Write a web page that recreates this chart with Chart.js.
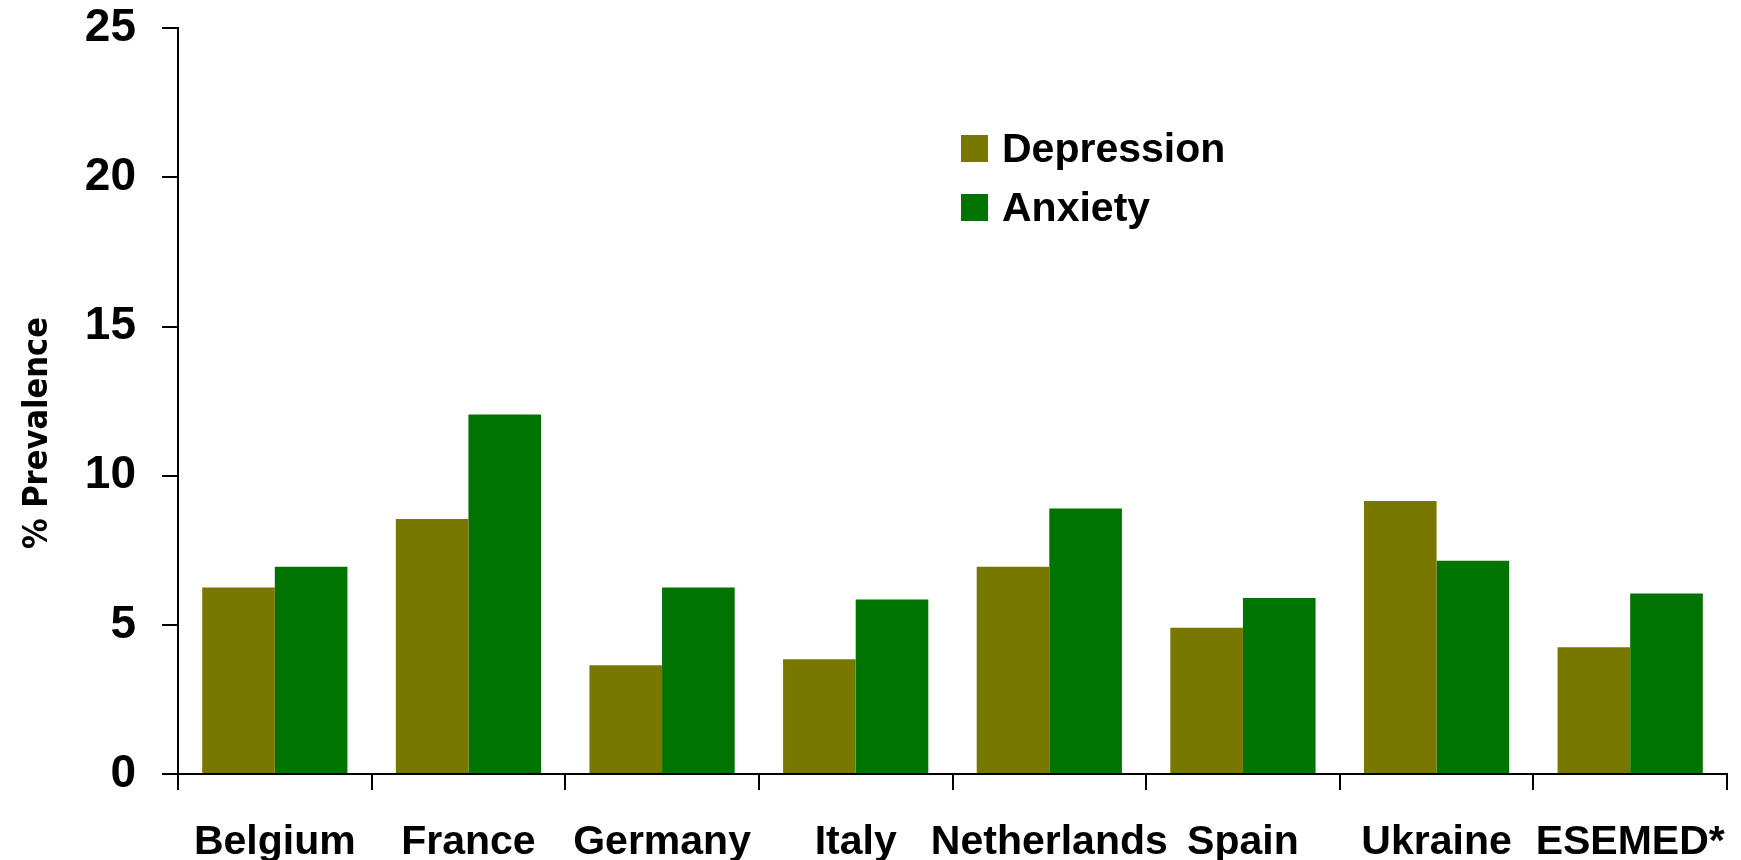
<!DOCTYPE html>
<html>
<head>
<meta charset="utf-8">
<script src="https://cdn.jsdelivr.net/npm/chart.js@4.4.1/dist/chart.umd.min.js"></script>
<style>
  html, body { margin: 0; padding: 0; background: #fff; }
  #wrap { position: relative; width: 1741px; height: 860px; overflow: hidden; }
  #legend { position: absolute; left: 961px; top: 128px; font: bold 41px 'Liberation Sans', Arial, sans-serif; color: #000; }
  .item { display: flex; align-items: center; height: 41px; line-height: 41px; margin-bottom: 18px; white-space: nowrap; }
  .box { width: 27px; height: 27px; margin-right: 14px; }
</style>
</head>
<body>
<div id="wrap">
  <canvas id="prevChart" width="1741" height="860"></canvas>
  <div id="legend"></div>
</div>
<script>
const categories = ['Belgium', 'France', 'Germany', 'Italy', 'Netherlands', 'Spain', 'Ukraine', 'ESEMED*'];
const depression = [6.25, 8.55, 3.65, 3.85, 6.95, 4.9, 9.15, 4.25];
const anxiety = [6.95, 12.05, 6.25, 5.85, 8.9, 5.9, 7.15, 6.05];
const seriesNames = ['Depression', 'Anxiety'];
const seriesColors = ['#787800', '#007400'];
const yMin = 0, yMax = 25, yStep = 5;
const yTitle = '% Prevalence';

const font = "'Liberation Sans', Arial, sans-serif";

const ctx = document.getElementById('prevChart').getContext('2d');
const chart = new Chart(ctx, {
    type: 'bar',
    data: {
        labels: categories,
        datasets: [
            { label: seriesNames[0], data: depression, backgroundColor: seriesColors[0] },
            { label: seriesNames[1], data: anxiety, backgroundColor: seriesColors[1] }
        ]
    },
    options: {
        responsive: false,
        animation: false,
        devicePixelRatio: 1,
        layout: { padding: { top: 6, right: 14, left: 0, bottom: 0 } },
        datasets: { bar: { categoryPercentage: 0.75, barPercentage: 1.0 } },
        plugins: { legend: { display: false }, tooltip: { enabled: false } },
        scales: {
            x: {
                offset: true,
                grid: { offset: true, drawOnChartArea: false, drawTicks: true, tickLength: 16, color: '#000', lineWidth: 2 },
                border: { color: '#000', width: 2 },
                // tall line height drops the labels without widening the right-hand padding
                ticks: { color: '#000', padding: 4, maxRotation: 0, autoSkip: false,
                         font: { family: font, size: 41, weight: 'bold', lineHeight: 2.37 } },
                afterFit: s => { s.height = 86; }
            },
            y: {
                min: yMin, max: yMax,
                grid: { drawOnChartArea: false, drawTicks: true, tickLength: 16, color: '#000', lineWidth: 2 },
                border: { color: '#000', width: 2 },
                // small line height so the top label does not push the plot down
                ticks: { stepSize: yStep, color: '#000', padding: 26,
                         font: { family: font, size: 46, weight: 'bold', lineHeight: 0.1 } },
                // trailing no-break spaces push the rotated title a little below the axis middle
                title: { display: true, text: yTitle + '\u00a0\u00a0\u00a0\u00a0\u00a0\u00a0', color: '#000', padding: { top: 18, bottom: 0 },
                         font: { family: "'DejaVu Sans Condensed', 'DejaVu Sans', sans-serif", size: 34, weight: 'bold' } },
                afterFit: s => { s.width = 178; }
            }
        }
    }
});

// legend drawn from the chart's datasets
const legend = document.getElementById('legend');
chart.data.datasets.forEach(ds => {
    const row = document.createElement('div');
    row.className = 'item';
    const box = document.createElement('span');
    box.className = 'box';
    box.style.background = ds.backgroundColor;
    row.appendChild(box);
    row.appendChild(document.createTextNode(ds.label));
    legend.appendChild(row);
});
</script>
</body>
</html>
